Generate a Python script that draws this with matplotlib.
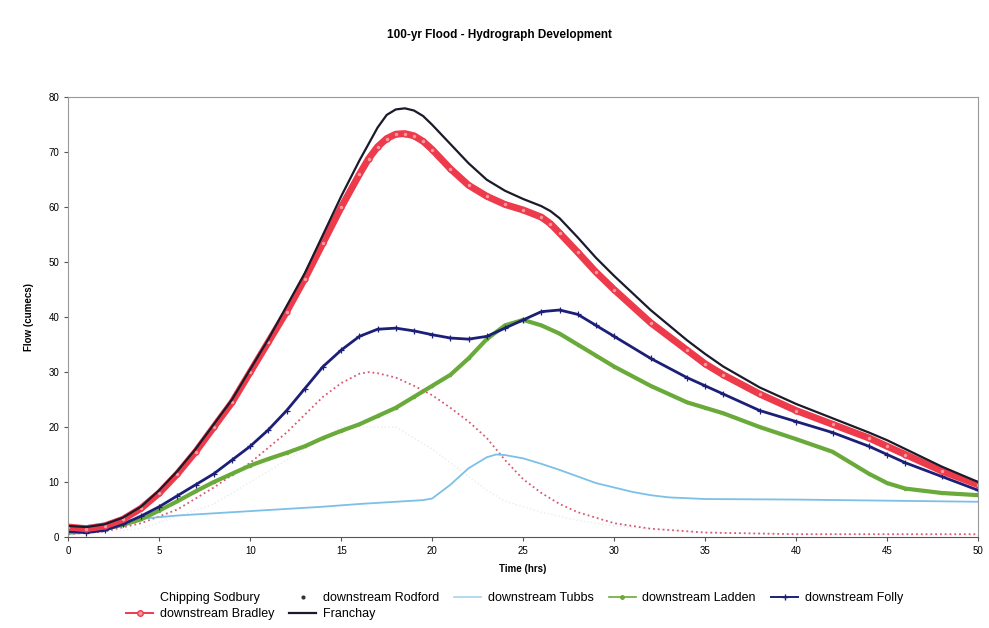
import matplotlib
matplotlib.use("Agg")
import matplotlib.pyplot as plt
from matplotlib.lines import Line2D

plt.rcParams['font.family'] = ['Liberation Sans', 'DejaVu Sans']

# hydrograph ordinates (time in hrs, flow in cumecs)
t_main = [0, 1, 2, 3, 4, 5, 6, 7, 8, 9, 10, 11, 12, 13, 14, 15, 16, 17, 18, 19,
          20, 21, 22, 23, 24, 25, 26, 27, 28, 29, 30, 32, 34, 35, 36, 38, 40,
          42, 44, 45, 46, 48, 50]

t_peak = [0, 1, 2, 3, 4, 5, 6, 7, 8, 9, 10, 11, 12, 13, 14, 15, 16, 16.5, 17,
          17.5, 18, 18.5, 19, 19.5, 20, 21, 22, 23, 24, 25, 26, 26.5, 27, 28,
          29, 30, 32, 34, 35, 36, 38, 40, 42, 44, 45, 46, 48, 50]

franchay = [2.0, 1.8, 2.3, 3.5, 5.5, 8.5, 12, 16, 20.5, 25, 30.5, 36, 42, 48,
            55, 62, 68.5, 71.5, 74.5, 76.8, 77.8, 78, 77.6, 76.6, 75, 71.5, 68,
            65, 63, 61.5, 60.2, 59.3, 58, 54.5, 50.8, 47.5, 41.3, 35.8, 33.3,
            31, 27.2, 24.2, 21.6, 19, 17.6, 16, 12.8, 10]

bradley = [1.8, 1.5, 2.0, 3.2, 5.2, 8, 11.5, 15.5, 20, 24.5, 30, 35.5, 41, 47,
           53.5, 60, 66, 68.8, 71, 72.5, 73.3, 73.4, 73, 72, 70.5, 67, 64, 62,
           60.5, 59.5, 58.2, 57, 55.3, 51.8, 48.2, 45, 39, 34, 31.5, 29.5, 26,
           23, 20.5, 18, 16.5, 15, 12, 9.5]

folly = [1.0, 0.8, 1.2, 2.3, 3.8, 5.5, 7.5, 9.5, 11.5, 14, 16.5, 19.5, 23, 27,
         31, 34, 36.5, 37.8, 38, 37.5, 36.8, 36.2, 36, 36.5, 38, 39.5, 41, 41.3,
         40.5, 38.5, 36.5, 32.5, 29, 27.5, 26, 23, 21, 19, 16.5, 15, 13.5, 11, 8.5]

ladden = [0.8, 1.0, 1.5, 2.2, 3.2, 4.8, 6.5, 8.3, 10, 11.5, 13, 14.2, 15.3,
          16.5, 18, 19.3, 20.5, 22, 23.5, 25.5, 27.5, 29.5, 32.5, 36, 38.5,
          39.5, 38.5, 37, 35, 33, 31, 27.5, 24.5, 23.5, 22.5, 20, 17.8, 15.5,
          11.5, 9.8, 8.8, 8.0, 7.6]

t_tubbs = [0, 2, 4, 5, 6, 8, 10, 12, 14, 16, 18, 19.5, 20, 21, 22, 23, 23.5,
           24, 25, 26, 27, 28, 29, 30, 31, 32, 33, 35, 40, 45, 50]
tubbs = [1.5, 2.5, 3.3, 3.6, 3.9, 4.3, 4.7, 5.1, 5.5, 6.0, 6.4, 6.7, 7.0, 9.5,
         12.5, 14.5, 15.0, 14.9, 14.3, 13.3, 12.2, 11.0, 9.8, 9.0, 8.2, 7.6,
         7.2, 6.9, 6.8, 6.6, 6.4]

t_rod = [0, 2, 4, 6, 8, 10, 12, 14, 15, 16, 16.5, 17, 18, 19, 20, 21, 22, 23,
         24, 25, 26, 27, 28, 30, 32, 35, 40, 45, 50]
rodford = [0.5, 1.0, 2.5, 5.0, 9.0, 13.5, 19, 25.5, 28, 29.7, 30, 29.8, 29,
           27.5, 25.8, 23.5, 21, 18, 14, 10.5, 8, 6, 4.5, 2.5, 1.5, 0.8, 0.5,
           0.5, 0.5]

t_chip = [0, 4, 8, 12, 15, 18, 20, 22, 23, 24, 25, 26, 28, 30, 32, 35, 40, 50]
chipping = [0.3, 1.5, 6, 14, 20, 20, 16, 11, 8.5, 6.5, 5.5, 4.5, 3, 2, 1.5,
            0.8, 0.5, 0.3]

fig = plt.figure(figsize=(9.89, 6.28), dpi=100)
ax = fig.add_axes([0.069, 0.145, 0.92, 0.70])

ax.plot(t_chip, chipping, color='#ececec', lw=1.0, ls=':')
ax.plot(t_rod, rodford, color='#d65a74', lw=1.3, ls=':')
ax.plot(t_tubbs, tubbs, color='#7cc0e8', lw=1.3)
ax.plot(t_main, ladden, color='#6aaa3a', lw=3.0, marker='.', ms=3)
ax.plot(t_main, folly, color='#1c1f78', lw=2.0, marker='+', ms=4, mew=0.9)
ax.plot(t_peak, bradley, color='#ee3b4c', lw=5.0, marker='o', ms=3.5,
        mfc='#f59aa3', mec='#ee3b4c')
ax.plot(t_peak, franchay, color='#1a1a2a', lw=1.6)

ax.set_xlim(0, 50)
ax.set_ylim(0, 80)
ax.set_xticks(range(0, 51, 5))
ax.set_yticks(range(0, 81, 10))
ax.tick_params(labelsize=7, length=3, color='#555555')
for side in ['left', 'top', 'right']:
    ax.spines[side].set_color('#999999')
ax.spines['bottom'].set_color('#555555')

ax.set_xlabel('Time (hrs)', fontsize=7, fontweight='bold', labelpad=6)
ax.set_ylabel('Flow (cumecs)', fontsize=7, fontweight='bold', labelpad=10)
fig.text(0.505, 0.944, '100-yr Flood - Hydrograph Development',
         ha='center', va='center', fontsize=8.5, fontweight='bold')

# legend keys drawn thin like the spreadsheet legend
keys = {
    'Chipping Sodbury': Line2D([], [], color='none'),
    'downstream Rodford': Line2D([], [], color='none', marker='.', ms=4,
                                mfc='#333333', mec='#333333'),
    'downstream Tubbs': Line2D([], [], color='#a8d4ee', lw=1.2),
    'downstream Ladden': Line2D([], [], color='#6aaa3a', lw=1.2, marker='.',
                                ms=5),
    'downstream Folly': Line2D([], [], color='#1c1f78', lw=1.4, marker='+',
                               ms=5),
    'downstream Bradley': Line2D([], [], color='#ee3b4c', lw=1.4, marker='o',
                                ms=4, mfc='#f59aa3'),
    'Franchay': Line2D([], [], color='#1a1a2a', lw=1.6),
}
# column-major order so the legend reads row by row like the original
order = ['Chipping Sodbury', 'downstream Bradley', 'downstream Rodford',
         'Franchay', 'downstream Tubbs', 'downstream Ladden', 'downstream Folly']
fig.legend([keys[k] for k in order], order, loc='lower center',
           bbox_to_anchor=(0.52, -0.005), ncol=5, fontsize=9, frameon=False,
           handlelength=2.2, columnspacing=1.2, handletextpad=0.5,
           labelspacing=0.3)

fig.savefig('out.png', dpi=100)
